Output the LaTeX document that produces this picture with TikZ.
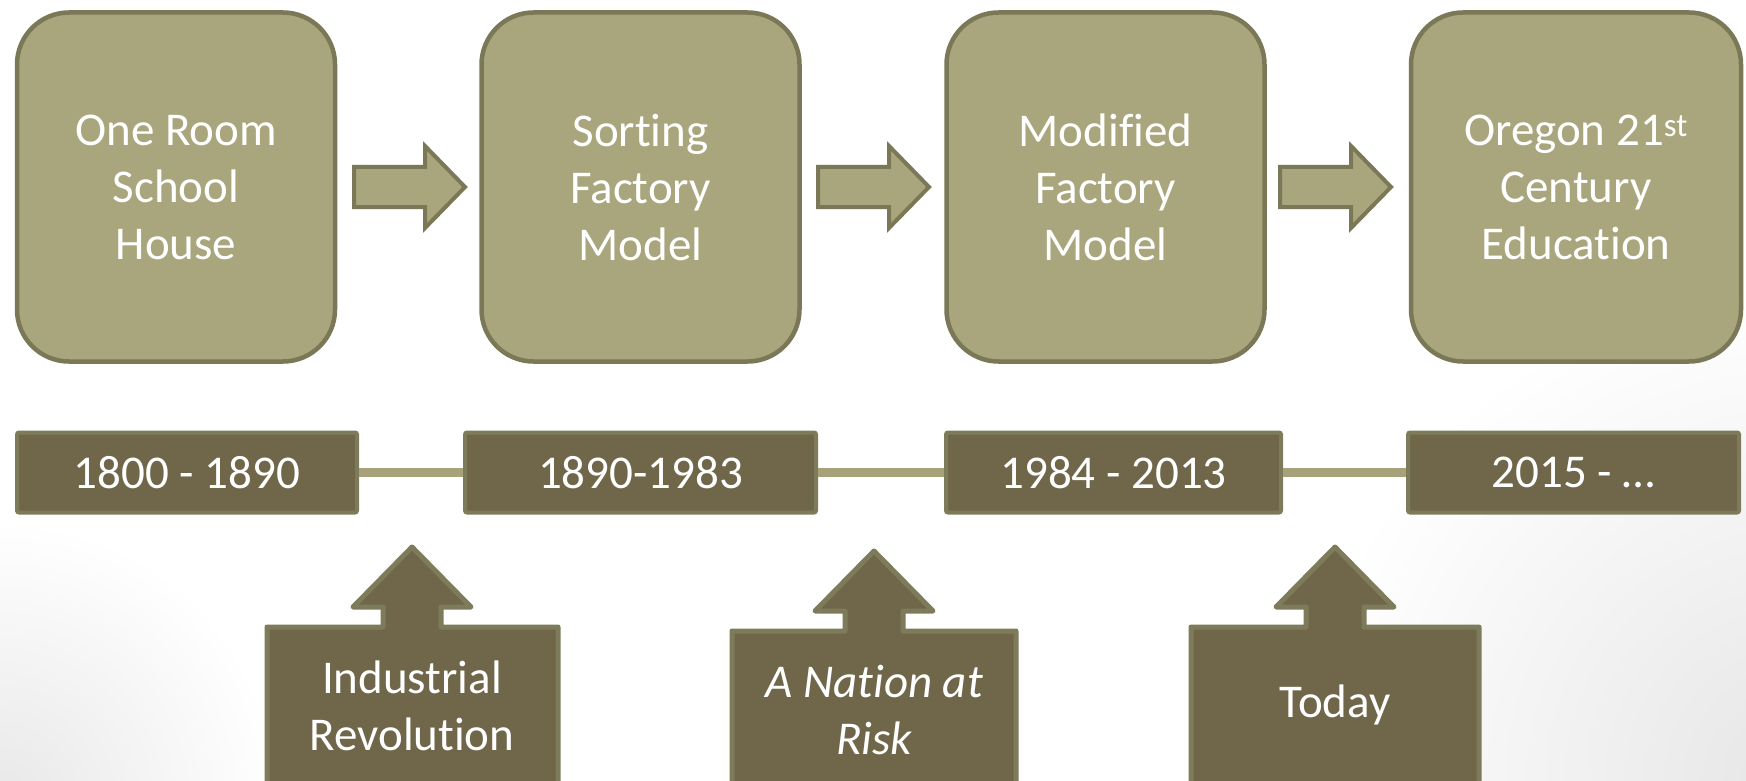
\documentclass[tikz,border=0pt]{standalone}
\usepackage{fontspec}
\setmainfont{Carlito}[Ligatures=NoCommon]
\definecolor{topfill}{RGB}{169,165,124}
\definecolor{topdraw}{RGB}{122,120,86}
\definecolor{darkfill}{RGB}{112,103,74}
\definecolor{darkdraw}{RGB}{126,123,91}
\definecolor{linkcol}{RGB}{167,162,122}
\tikzset{
  txt/.style={text=white, align=center, font=\fontsize{47}{57}\selectfont},
  topbox/.style={txt, draw=topdraw, line width=4.5pt, fill=topfill, rounded corners=52pt,
    minimum width=318pt, minimum height=349pt, inner sep=0pt},
  datebox/.style={txt, draw=darkdraw, line width=4pt, fill=darkfill, rounded corners=2pt,
    minimum height=80pt, inner sep=0pt},
  blockarrow/.style={draw=topdraw, line width=4pt, fill=topfill, line join=miter},
  callstyle/.style={draw=darkdraw, line width=5pt, fill=darkfill, line join=round},
  linkstyle/.style={draw=linkcol, line width=9pt},
  rarrow/.pic={\path[blockarrow] (0,-20) -- (71,-20) -- (71,-41) -- (111,0) -- (71,41) -- (71,20) -- (0,20) -- cycle;}
}
\newcommand\calloutshape[4]{%
  \path[callstyle] (#2,627+#4) -- (#1-29,627+#4) -- (#1-29,607+#4) -- (#1-59,607+#4) -- (#1,547+#4)
    -- (#1+59,607+#4) -- (#1+29,607+#4) -- (#1+29,627+#4) -- (#3,627+#4) -- (#3,800) -- (#2,800) -- cycle;}
\begin{document}
\begin{tikzpicture}[x=1pt,y=-1pt]
\useasboundingbox (0,0) rectangle (1746,781);
\clip (0,0) rectangle (1746,781);
\fill[white] (0,0) rectangle (1746,781);
\shade[inner color=black!9, outer color=white] (0,800) circle (280);
\shade[inner color=black!10, outer color=white] (1800,781) circle (500);
% top boxes
\node[topbox] (b1) at (176,187) {One Room\\School\\House};
\node[topbox] (b2) at (640.5,187) {Sorting\\Factory\\Model};
\node[topbox] (b3) at (1105.5,187) {Modified\\Factory\\Model};
\node[topbox, minimum width=330pt] (b4) at (1576,187) {Oregon 21\textsuperscript{st}\\Century\\Education};
% block arrows
\pic at (354,187) {rarrow};
\pic at (818,187) {rarrow};
\pic at (1280,187) {rarrow};
% date boxes
\node[datebox, minimum width=340pt] (d1) at (187,472.5) {1800 - 1890};
\node[datebox, minimum width=351pt] (d2) at (640.5,472.5) {1890-1983};
\node[datebox, minimum width=335pt] (d3) at (1113.5,472.5) {1984 - 2013};
\node[datebox, minimum width=331pt] (d4) at (1573.5,472.5) {2015 - …};
\draw[linkstyle] (d1.east) -- (d2.west);
\draw[linkstyle] (d2.east) -- (d3.west);
\draw[linkstyle] (d3.east) -- (d4.west);
% callouts
\calloutshape{412}{267}{558}{0}
\calloutshape{874}{732}{1016}{4}
\calloutshape{1335}{1191}{1479}{0}
\node[txt] (c1) at (412,706) {Industrial\\Revolution};
\node[txt] (c2) at (874,710) {\itshape A Nation at\\\itshape Risk};
\node[txt] (c3) at (1335,705) {Today};
\end{tikzpicture}
\end{document}
